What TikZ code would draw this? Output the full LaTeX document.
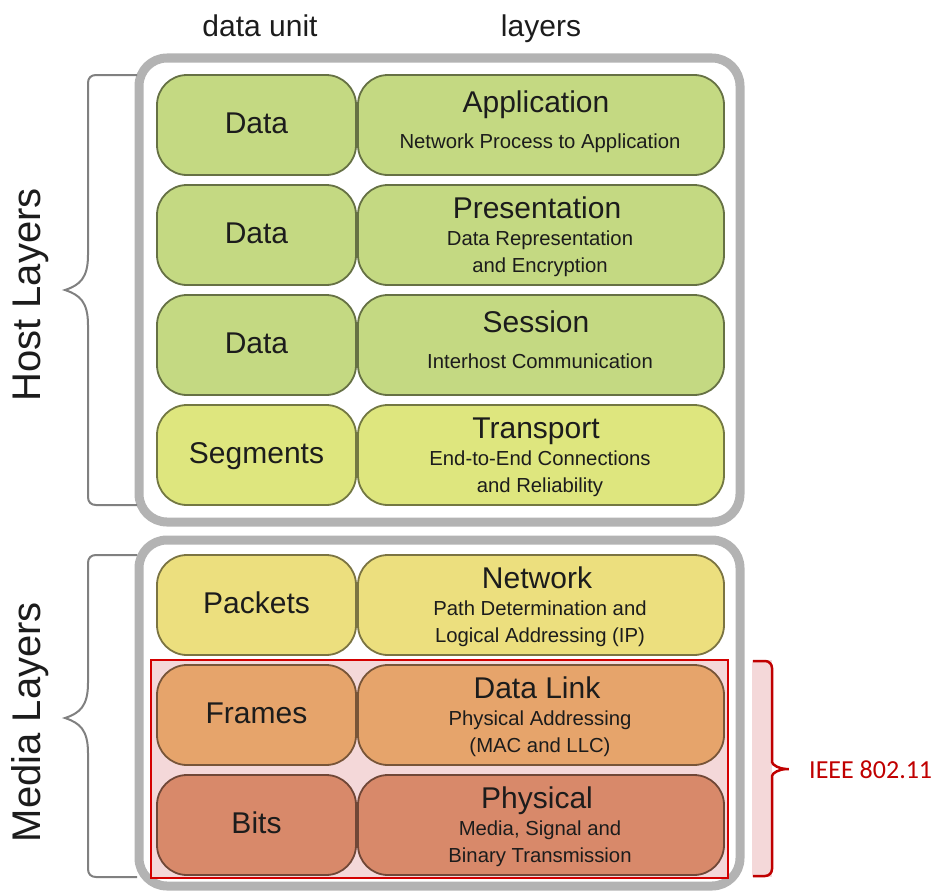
\documentclass[tikz,border=0pt]{standalone}
\usepackage{fontspec}
\setmainfont{Liberation Sans}
\newfontfamily\labelfont{Carlito}
\definecolor{frame}{HTML}{B3B3B3}
\definecolor{bracegray}{HTML}{808080}
\definecolor{cgreen}{HTML}{C4D982}
\definecolor{clime}{HTML}{DEE67E}
\definecolor{cyellow}{HTML}{ECDF7E}
\definecolor{corange}{HTML}{E6A46B}
\definecolor{csalmon}{HTML}{D8896A}
\definecolor{ieeered}{HTML}{C00000}
\definecolor{ieeeline}{HTML}{D40000}
\definecolor{ieeepink}{HTML}{F4D8D9}
\definecolor{ink}{HTML}{1C1C1C}
\begin{document}
\begin{tikzpicture}[x=1pt,y=-1pt,
  container/.style={draw=frame,line width=9pt,fill=white,rounded corners=28pt},
  layerbox/.style={draw=#1!52!black,fill=#1,line width=1.8pt,rounded corners=30pt,
    minimum height=100pt,inner sep=0pt},
  unitbox/.style={layerbox=#1,minimum width=199pt},
  namebox/.style={layerbox=#1,minimum width=366pt},
  unit/.style={text=ink,inner sep=0pt,anchor=base,font=\fontsize{30}{34}\selectfont},
  title/.style={text=ink,inner sep=0pt,anchor=base,font=\fontsize{30}{34}\selectfont},
  sub/.style={text=ink,inner sep=0pt,anchor=base,font=\fontsize{20.3}{27}\selectfont},
  head/.style={text=ink,inner sep=0pt,anchor=base,font=\fontsize{30}{34}\selectfont},
  side/.style={text=ink,inner sep=0pt,rotate=90,font=\fontsize{40}{44}\selectfont},
  brace/.style={draw=bracegray,line width=2pt}]
\useasboundingbox (0,0) rectangle (936,891);

% column headings
\node[head] (hunit) at (260,37) {data unit};
\node[head] (hlayer) at (541,37) {layers};

% the two groups
\draw[container] (139,58) rectangle (740,522);
\draw[container] (139,540) rectangle (740,886);

% IEEE 802.11 band
\fill[ieeepink] (752,660) rectangle (772,877);
\draw[ieeeline,fill=ieeepink,line width=2.5pt] (151,660) rectangle (728,878);

% host layers
\node[unitbox=cgreen] (u7) at (256.5,125) {};
\node[namebox=cgreen] (l7) at (541,125) {};
\node[unit] (d7) at (256.5,133) {Data};
\node[title] (t7) at (536,112) {Application};
\node[sub] (s7) at (540,148) {Network Process to Application};

\node[unitbox=cgreen] (u6) at (256.5,235) {};
\node[namebox=cgreen] (l6) at (541,235) {};
\node[unit] (d6) at (256.5,243) {Data};
\node[title] (t6) at (537,218) {Presentation};
\node[sub] (s6a) at (540,245) {Data Representation};
\node[sub] (s6b) at (540,272) {and Encryption};

\node[unitbox=cgreen] (u5) at (256.5,345) {};
\node[namebox=cgreen] (l5) at (541,345) {};
\node[unit] (d5) at (256.5,353) {Data};
\node[title] (t5) at (536,332) {Session};
\node[sub] (s5) at (540,368) {Interhost Communication};

\node[unitbox=clime] (u4) at (256.5,455) {};
\node[namebox=clime] (l4) at (541,455) {};
\node[unit] (d4) at (256.5,463) {Segments};
\node[title] (t4) at (536,438) {Transport};
\node[sub] (s4a) at (540,465) {End-to-End Connections};
\node[sub] (s4b) at (540,492) {and Reliability};

% media layers
\node[unitbox=cyellow] (u3) at (256.5,605) {};
\node[namebox=cyellow] (l3) at (541,605) {};
\node[unit] (d3) at (256.5,613) {Packets};
\node[title] (t3) at (537,588) {Network};
\node[sub] (s3a) at (540,615) {Path Determination and};
\node[sub] (s3b) at (540,642) {Logical Addressing (IP)};

\node[unitbox=corange] (u2) at (256.5,715) {};
\node[namebox=corange] (l2) at (541,715) {};
\node[unit] (d2) at (256.5,723) {Frames};
\node[title] (t2) at (537,698) {Data Link};
\node[sub] (s2a) at (540,725) {Physical Addressing};
\node[sub] (s2b) at (540,752) {(MAC and LLC)};

\node[unitbox=csalmon] (u1) at (256.5,825) {};
\node[namebox=csalmon] (l1) at (541,825) {};
\node[unit] (d1) at (256.5,833) {Bits};
\node[title] (t1) at (537,808) {Physical};
\node[sub] (s1a) at (540,835) {Media, Signal and};
\node[sub] (s1b) at (540,862) {Binary Transmission};

% side braces and labels
\draw[brace] (137,75) -- (96,75) .. controls (91,75) and (88,78) .. (88,83) -- (88,255)
  .. controls (88,278) and (80,285) .. (65,290)
  .. controls (80,295) and (88,302) .. (88,325) -- (88,497)
  .. controls (88,502) and (91,505) .. (96,505) -- (137,505);
\node[side] (host) at (31,295) {Host Layers};

\draw[brace] (137,555) -- (96,555) .. controls (91,555) and (88,558) .. (88,563) -- (88,683)
  .. controls (88,706) and (80,713) .. (65,718)
  .. controls (80,723) and (88,730) .. (88,753) -- (88,869)
  .. controls (88,874) and (91,877) .. (96,877) -- (137,877);
\node[side] (media) at (30,722) {Media Layers};

% IEEE bracket
\draw[ieeered,line width=2.5pt,rounded corners=7pt] (753,661) -- (772,661) -- (772,755)
  .. controls (772,765) and (780,769) .. (793,769)
  .. controls (780,769) and (772,773) .. (772,783) -- (772,876) -- (753,876);
\node[text=ieeered,inner sep=0pt,anchor=west,font=\labelfont\fontsize{26}{30}\selectfont] (ieee) at (809,770) {IEEE 802.11};
\end{tikzpicture}
\end{document}
